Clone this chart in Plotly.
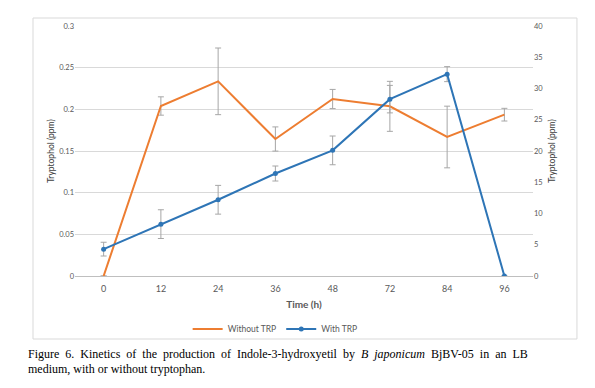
import plotly.graph_objects as go

time_labels = ["0", "12", "24", "36", "48", "72", "84", "96"]
without_trp = [0.0, 0.204, 0.2336, 0.1644, 0.2124, 0.2036, 0.1668, 0.1936]
without_trp_err = [0.0, 0.011, 0.040, 0.0145, 0.0115, 0.030, 0.037, 0.0076]
with_trp = [4.3, 8.3, 12.2, 16.4, 20.1, 28.3, 32.3, 0.0]
with_trp_err = [1.1, 2.3, 2.3, 1.2, 2.3, 2.2, 1.2, 0.0]

caption_words_1 = ["Figure", "6.", "Kinetics", "of", "the", "production", "of",
                   "Indole-3-hydroxyetil", "by", "<i>B", "japonicum</i>", "BjBV-05",
                   "in", "an", "LB"]
caption_line_2 = "medium, with or without tryptophan."

FONT = "Lato"
TICK_COLOR = "#595959"
ERR_COLOR = "#A6A6A6"

fig = go.Figure()
fig.add_trace(go.Scatter(
    x=time_labels, y=without_trp, name="Without TRP", mode="lines",
    line=dict(color="#ED7D31", width=2),
    error_y=dict(type="data", array=without_trp_err, visible=True,
                 color=ERR_COLOR, thickness=1, width=3),
    yaxis="y",
))
fig.add_trace(go.Scatter(
    x=time_labels, y=with_trp, name="With TRP", mode="lines+markers",
    line=dict(color="#2E75B6", width=2),
    marker=dict(color="#2E75B6", size=5),
    error_y=dict(type="data", array=with_trp_err, visible=True,
                 color=ERR_COLOR, thickness=1, width=3),
    yaxis="y2",
))

fig.update_layout(
    width=587, height=380,
    margin=dict(l=67, r=62, t=18, b=112),
    paper_bgcolor="white", plot_bgcolor="white",
    font=dict(family=FONT, color=TICK_COLOR),
    showlegend=True,
    legend=dict(orientation="h", x=0.437, xanchor="center", y=-0.212, yanchor="middle",
                font=dict(size=8.5, color=TICK_COLOR), itemwidth=30,
                bgcolor="rgba(0,0,0,0)"),
    xaxis=dict(type="category", range=[-0.5, 7.5], showgrid=False,
               showline=True, linecolor="#BFBFBF", linewidth=1,
               ticks="", tickfont=dict(size=9, color=TICK_COLOR), ticklabelstandoff=4,
               title=dict(text="<b>Time (h)</b>", font=dict(size=10, color=TICK_COLOR), standoff=8),
               zeroline=False),
    yaxis=dict(range=[0, 0.3], dtick=0.05, showgrid=True, gridcolor="#D9D9D9",
               zeroline=False, ticks="", tickfont=dict(size=7.5, color=TICK_COLOR),
               title=dict(text="Tryptophol (ppm)", font=dict(size=8.5, color="#404040"), standoff=3)),
    yaxis2=dict(range=[0, 40], dtick=5, overlaying="y", side="right", showgrid=False,
                zeroline=False, ticks="", tickfont=dict(size=7.5, color=TICK_COLOR),
                title=dict(text="Tryptophol (ppm)", font=dict(size=8.5, color="#404040"), standoff=6)),
    shapes=[dict(type="rect", xref="paper", yref="paper",
                 x0=-0.0917, x1=1.096, y0=-0.252, y1=1.032,
                 line=dict(color="#D9D9D9", width=1), fillcolor="rgba(0,0,0,0)", layer="below")],
    annotations=[
        dict(xref="paper", yref="paper", x=-0.107, y=-0.312, xanchor="left", yanchor="middle",
             showarrow=False, align="left",
             text="\u00a0 ".join(caption_words_1),
             font=dict(family="Liberation Serif", size=12, color="black")),
        dict(xref="paper", yref="paper", x=-0.107, y=-0.370, xanchor="left", yanchor="middle",
             showarrow=False, align="left",
             text=caption_line_2,
             font=dict(family="Liberation Serif", size=12, color="black")),
    ],
)

fig.write_html("out.html")
